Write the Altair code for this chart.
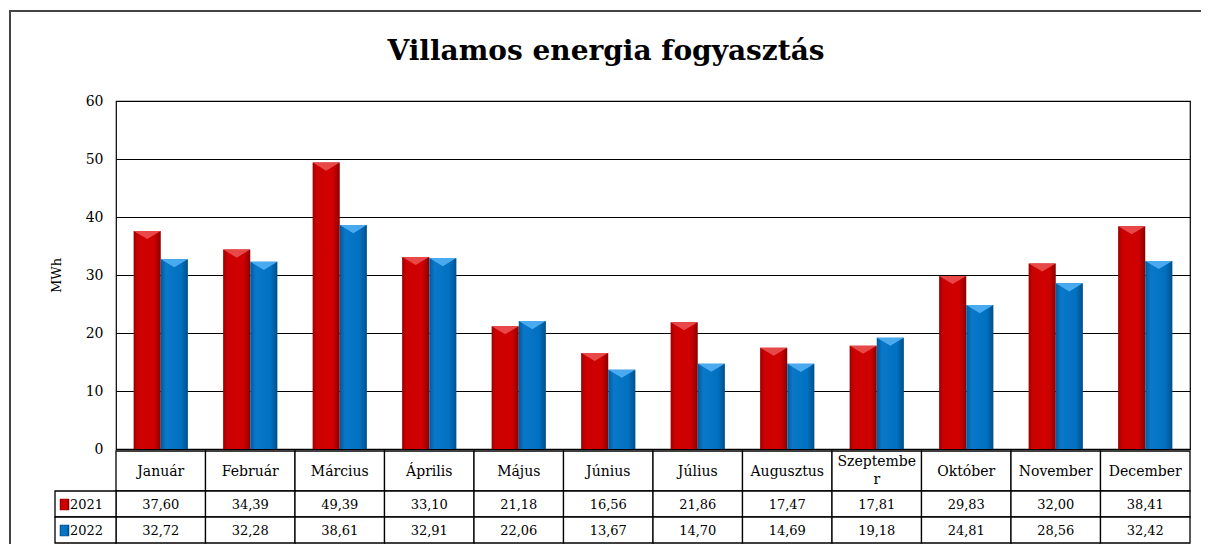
import altair as alt
import pandas as pd

months = ["Január", "Február", "Március", "Április", "Május", "Június",
          "Július", "Augusztus", "Szeptember", "Október", "November", "December"]
month_labels = ["Január", "Február", "Március", "Április", "Május", "Június",
                "Július", "Augusztus", "Szeptembe\nr", "Október", "November", "December"]
series = ["2021", "2022"]
v2021 = [37.60, 34.39, 49.39, 33.10, 21.18, 16.56, 21.86, 17.47, 17.81, 29.83, 32.00, 38.41]
v2022 = [32.72, 32.28, 38.61, 32.91, 22.06, 13.67, 14.70, 14.69, 19.18, 24.81, 28.56, 32.42]
y_ticks = [0, 10, 20, 30, 40, 50, 60]
title_text = "Villamos energia fogyasztás"
y_title = "MWh"

rows = []
for s, vals in zip(series, [v2021, v2022]):
    for m, lab, v in zip(months, month_labels, vals):
        rows.append({"month": m, "label": lab, "series": s, "value": v,
                     "txt": f"{v:.2f}".replace(".", ",")})
df = pd.DataFrame(rows)
mdf = pd.DataFrame({"month": months, "label": month_labels})
one = pd.DataFrame({"k": [0]})

FONT = "DejaVu Serif"
W, H = 1074, 348

xenc = alt.X("month:N", sort=months, axis=None,
             scale=alt.Scale(paddingInner=0, paddingOuter=0))
xoff = alt.XOffset("series:N", scale=alt.Scale(domain=series, paddingInner=0, paddingOuter=0.65))
yenc = alt.Y("value:Q", scale=alt.Scale(domain=[0, 60], nice=False),
             axis=alt.Axis(values=y_ticks, title=y_title, grid=True, gridColor="black",
                           gridWidth=1, gridOpacity=1, domain=False, ticks=False,
                           labelFont=FONT, labelFontSize=14, labelPadding=13,
                           labelColor="black", titleFont=FONT, titleFontSize=13,
                           titleFontWeight="normal", titleColor="black", titlePadding=22))

red_grad = alt.Gradient(gradient="linear", x1=0, x2=1, y1=0, y2=0, stops=[
    alt.GradientStop(color="#9a0000", offset=0),
    alt.GradientStop(color="#cc0000", offset=0.15),
    alt.GradientStop(color="#d00000", offset=0.75),
    alt.GradientStop(color="#8a0000", offset=1)])
blue_grad = alt.Gradient(gradient="linear", x1=0, x2=1, y1=0, y2=0, stops=[
    alt.GradientStop(color="#005a9c", offset=0),
    alt.GradientStop(color="#0a78c8", offset=0.2),
    alt.GradientStop(color="#0070c0", offset=0.75),
    alt.GradientStop(color="#004f88", offset=1)])

base = alt.Chart(df)
bars_r = base.transform_filter(alt.datum.series == "2021").mark_bar(color=red_grad).encode(
    x=xenc, xOffset=xoff, y=yenc)
bars_b = base.transform_filter(alt.datum.series == "2022").mark_bar(color=blue_grad).encode(
    x=xenc, xOffset=xoff, y="value:Q")
tri = "M-1,0 L1,0 L0,0.6 Z"
top_r = base.transform_filter(alt.datum.series == "2021").mark_point(
    shape=tri, size=729, filled=True, color="#e84848", opacity=1).encode(
    x=xenc, xOffset=xoff, y="value:Q")
top_b = base.transform_filter(alt.datum.series == "2022").mark_point(
    shape=tri, size=729, filled=True, color="#4aaaf0", opacity=1).encode(
    x=xenc, xOffset=xoff, y="value:Q")

def row_rect(y0, y1):
    return alt.Chart(mdf).mark_rect(fill="white", stroke="black", strokeWidth=1.3).encode(
        x=xenc, y=alt.value(y0), y2=alt.value(y1))

R0, R1, R2, R3 = 350, 390, 416, 442
cells = row_rect(R0, R1) + row_rect(R1, R2) + row_rect(R2, R3)
leg_cells = (alt.Chart(one).mark_rect(fill="white", stroke="black", strokeWidth=1.3).encode(
    x=alt.value(-61), x2=alt.value(0), y=alt.value(R1), y2=alt.value(R2)) +
    alt.Chart(one).mark_rect(fill="white", stroke="black", strokeWidth=1.3).encode(
    x=alt.value(-61), x2=alt.value(0), y=alt.value(R2), y2=alt.value(R3)))

sw_r = alt.Chart(one).mark_rect(color=red_grad, stroke="#800000", strokeWidth=0.5).encode(
    x=alt.value(-56), x2=alt.value(-47), y=alt.value(398), y2=alt.value(409))
sw_b = alt.Chart(one).mark_rect(color=blue_grad, stroke="#004070", strokeWidth=0.5).encode(
    x=alt.value(-56), x2=alt.value(-47), y=alt.value(424), y2=alt.value(435))
leg_t = (alt.Chart(pd.DataFrame({"s": [series[0]]})).mark_text(
    font=FONT, fontSize=13, align="left", baseline="middle", color="black").encode(
    x=alt.value(-46), y=alt.value((R1 + R2) / 2 + 1), text="s:N") +
    alt.Chart(pd.DataFrame({"s": [series[1]]})).mark_text(
    font=FONT, fontSize=13, align="left", baseline="middle", color="black").encode(
    x=alt.value(-46), y=alt.value((R2 + R3) / 2 + 1), text="s:N"))

mbase = alt.Chart(mdf)
mlab1 = mbase.transform_filter("indexof(datum.label, '\\n') < 0").mark_text(
    font=FONT, fontSize=14, baseline="middle", color="black").encode(
    x=xenc, y=alt.value((R0 + R1) / 2 + 1), text="label:N")
mlab2 = mbase.transform_filter("indexof(datum.label, '\\n') >= 0").mark_text(
    font=FONT, fontSize=14, baseline="middle", lineBreak="\n", lineHeight=18,
    color="black").encode(
    x=xenc, y=alt.value(R0 + 11), text="label:N")
t21 = base.transform_filter(alt.datum.series == "2021").mark_text(
    font=FONT, fontSize=13, baseline="middle", color="black").encode(
    x=xenc, y=alt.value((R1 + R2) / 2 + 1), text="txt:N")
t22 = base.transform_filter(alt.datum.series == "2022").mark_text(
    font=FONT, fontSize=13, baseline="middle", color="black").encode(
    x=xenc, y=alt.value((R2 + R3) / 2 + 1), text="txt:N")

border = alt.Chart(one).mark_rect(filled=False, stroke="#444444", strokeWidth=2).encode(
    x=alt.value(-106), x2=alt.value(1110), y=alt.value(-90), y2=alt.value(480))
title = alt.Chart(one).mark_text(text=title_text, font=FONT, fontSize=28, fontWeight="bold",
                                 baseline="middle", color="black").encode(
    x=alt.value(490), y=alt.value(-49))

chart = alt.layer(bars_r, bars_b, top_r, top_b, cells, leg_cells, sw_r, sw_b, leg_t,
                  mlab1, mlab2, t21, t22, border, title).properties(
    width=W, height=H,
    autosize=alt.AutoSizeParams(type="none"),
    padding={"left": 108, "top": 93, "right": 11, "bottom": 95},
    background="white",
).configure_view(stroke="black", strokeWidth=1.2)

chart.save("out.html", embed_options={"renderer": "svg", "actions": False})
